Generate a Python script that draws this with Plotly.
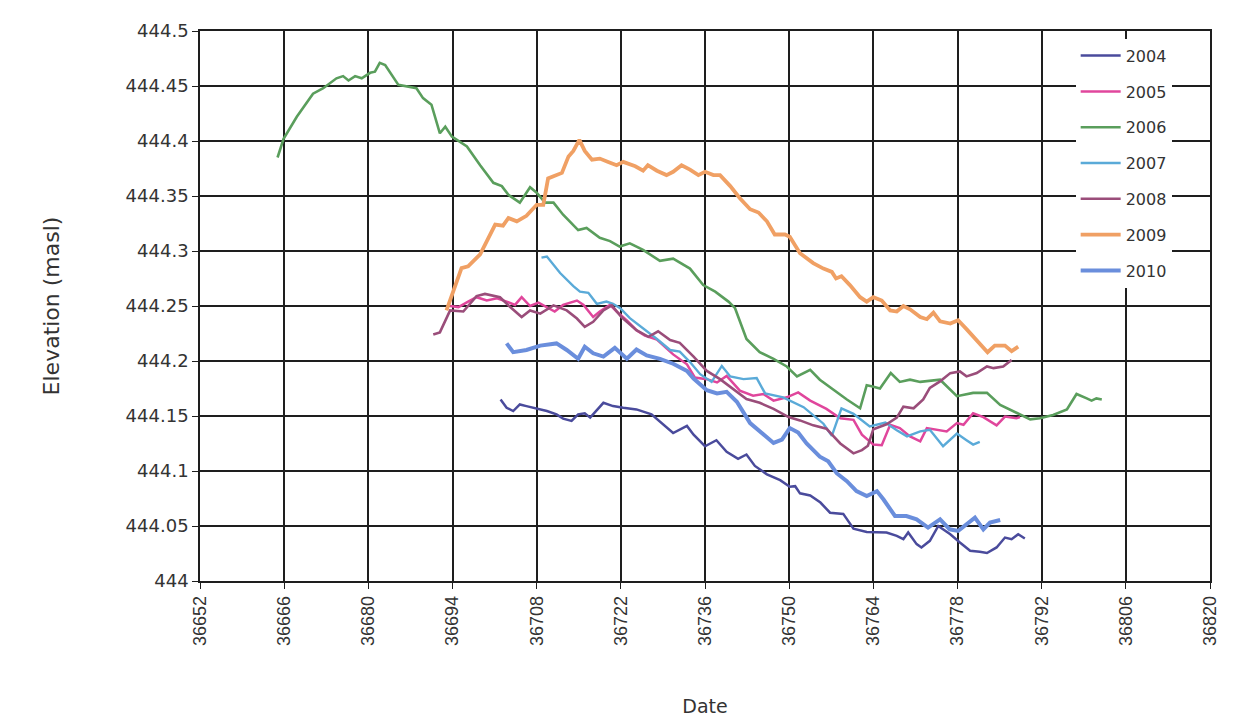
import plotly.graph_objects as go

# ---------------- data ----------------
x_ticks = [36652, 36666, 36680, 36694, 36708, 36722, 36736, 36750, 36764, 36778, 36792, 36806, 36820]
x_tick_labels = [str(v) for v in x_ticks]
y_ticks = [444.0, 444.05, 444.1, 444.15, 444.2, 444.25, 444.3, 444.35, 444.4, 444.45, 444.5]
y_tick_labels = ["444", "444.05", "444.1", "444.15", "444.2", "444.25", "444.3", "444.35", "444.4", "444.45", "444.5"]

d2004 = [36702.0, 36703.0, 36704.1, 36705.2, 36706.3, 36708.0, 36709.7, 36711.3, 36712.4, 36713.8, 36714.9, 36716.0,
         36716.9, 36719.1, 36720.7, 36722.4, 36724.6, 36727.1, 36729.1, 36730.7, 36733.0, 36734.1, 36736.0, 36737.9,
         36739.6, 36741.5, 36742.9, 36744.3, 36746.3, 36748.5, 36750.1, 36751.0, 36751.8, 36753.5, 36755.2, 36756.8,
         36759.0, 36760.7, 36762.9, 36766.2, 36767.9, 36769.0, 36769.8, 36771.2, 36772.0, 36773.4, 36774.8, 36776.8,
         36778.4, 36780.1, 36781.7, 36782.9, 36784.5, 36785.9, 36787.0, 36788.1, 36789.2]
e2004 = [444.165, 444.1575, 444.1545, 444.1605, 444.159, 444.1566, 444.1545, 444.1515, 444.1476, 444.1455, 444.1515, 444.1524,
         444.1485, 444.162, 444.159, 444.1575, 444.156, 444.1515, 444.142, 444.1345, 444.141, 444.133, 444.1225, 444.128,
         444.1175, 444.111, 444.115, 444.1046, 444.097, 444.0917, 444.0857, 444.0862, 444.0797, 444.0778, 444.0713, 444.0621,
         444.061, 444.0475, 444.0445, 444.0441, 444.041, 444.038, 444.0441, 444.0335, 444.0305, 444.0365, 444.050, 444.0425,
         444.035, 444.0275, 444.0266, 444.0254, 444.0305, 444.0395, 444.038, 444.0425, 444.0386]

d2005 = [36693.6, 36695.0, 36696.6, 36698.0, 36699.7, 36701.4, 36703.0, 36704.4, 36705.5, 36706.9, 36708.3, 36709.7,
         36711.0, 36712.4, 36714.7, 36715.8, 36717.4, 36718.5, 36720.2, 36721.3, 36723.0, 36724.6, 36726.0, 36728.0,
         36730.7, 36733.0, 36734.3, 36736.3, 36738.0, 36739.6, 36741.8, 36744.0, 36745.7, 36747.4, 36749.6, 36751.5,
         36753.5, 36756.2, 36758.5, 36760.7, 36762.1, 36764.0, 36765.4, 36766.8, 36768.4, 36770.1, 36771.8, 36772.9,
         36774.5, 36776.2, 36777.9, 36779.0, 36780.6, 36782.3, 36784.5, 36785.9, 36787.8, 36788.4]
e2005 = [444.250, 444.249, 444.254, 444.258, 444.255, 444.257, 444.254, 444.251, 444.258, 444.250, 444.253, 444.249,
         444.245, 444.251, 444.255, 444.251, 444.240, 444.245, 444.251, 444.245, 444.237, 444.228, 444.223, 444.2195,
         444.206, 444.197, 444.185, 444.1835, 444.1805, 444.1865, 444.173, 444.1685, 444.170, 444.164, 444.167, 444.1715,
         444.164, 444.1565, 444.148, 444.1465, 444.133, 444.124, 444.1235, 444.142, 444.139, 444.1315, 444.127, 444.139,
         444.1375, 444.136, 444.1435, 444.142, 444.1525, 444.149, 444.1415, 444.1495, 444.148, 444.149]

d2006 = [36664.9, 36665.9, 36668.1, 36670.8, 36672.5, 36674.7, 36675.8, 36676.7, 36677.8, 36678.9, 36680.3, 36681.1,
         36681.9, 36682.8, 36685.0, 36686.9, 36688.0, 36689.1, 36690.5, 36691.9, 36692.8, 36693.9, 36696.4, 36698.6,
         36700.8, 36702.2, 36703.3, 36705.2, 36706.9, 36708.0, 36709.4, 36710.8, 36712.4, 36714.9, 36716.3, 36718.5,
         36720.2, 36721.8, 36723.5, 36725.7, 36728.5, 36730.7, 36733.5, 36735.7, 36737.7, 36739.9, 36741.0, 36742.9,
         36745.1, 36747.4, 36749.6, 36751.3, 36753.5, 36755.1, 36757.3, 36759.6, 36761.8, 36762.9, 36763.7, 36765.1,
         36766.9, 36768.4, 36770.1, 36771.8, 36775.1, 36777.9, 36780.6, 36782.9, 36785.1, 36787.3, 36790.1, 36791.7,
         36793.9, 36796.2, 36797.8, 36799.5, 36800.3, 36801.1, 36802.0]
e2006 = [444.385, 444.402, 444.422, 444.443, 444.448, 444.457, 444.459, 444.455, 444.459, 444.457, 444.462, 444.463,
         444.471, 444.469, 444.451, 444.449, 444.448, 444.439, 444.433, 444.407, 444.413, 444.404, 444.395, 444.378,
         444.362, 444.359, 444.351, 444.344, 444.358, 444.353, 444.344, 444.344, 444.333, 444.319, 444.321, 444.312,
         444.309, 444.304, 444.307, 444.301, 444.291, 444.293, 444.284, 444.269, 444.263, 444.254, 444.248, 444.220,
         444.208, 444.202, 444.195, 444.186, 444.192, 444.183, 444.174, 444.165, 444.157, 444.178, 444.177, 444.175,
         444.189, 444.181, 444.183, 444.181, 444.183, 444.168, 444.171, 444.171, 444.160, 444.154, 444.147, 444.148,
         444.151, 444.156, 444.170, 444.166, 444.164, 444.166, 444.165]

d2007 = [36708.8, 36709.7, 36711.9, 36714.1, 36715.2, 36716.6, 36718.0, 36719.6, 36720.7, 36721.9, 36723.5, 36725.7,
         36728.0, 36730.2, 36731.8, 36733.5, 36735.2, 36737.1, 36738.8, 36740.2, 36742.4, 36744.6, 36746.0, 36749.0,
         36752.4, 36755.7, 36757.1, 36758.7, 36760.7, 36763.4, 36766.0, 36767.9, 36769.6, 36771.8, 36773.4, 36775.6,
         36777.9, 36779.5, 36780.6, 36781.7]
e2007 = [444.294, 444.295, 444.280, 444.268, 444.263, 444.262, 444.252, 444.254, 444.252, 444.248, 444.239, 444.230,
         444.220, 444.210, 444.2085, 444.199, 444.188, 444.181, 444.1955, 444.186, 444.1835, 444.1845, 444.1705, 444.167,
         444.158, 444.143, 444.132, 444.157, 444.152, 444.1405, 444.144, 444.137, 444.1315, 444.136, 444.1375, 444.1225,
         444.134, 444.128, 444.124, 444.1265]

d2008 = [36690.8, 36691.9, 36693.6, 36695.8, 36698.0, 36699.4, 36701.9, 36703.6, 36705.5, 36706.9, 36708.6, 36710.8,
         36713.0, 36714.7, 36716.0, 36717.4, 36719.1, 36720.5, 36722.1, 36724.6, 36726.6, 36728.2, 36730.2, 36731.8,
         36734.1, 36736.3, 36738.5, 36740.7, 36742.9, 36745.1, 36747.4, 36749.9, 36751.8, 36754.0, 36756.2, 36758.5,
         36760.7, 36762.1, 36763.1, 36764.0, 36766.2, 36767.9, 36769.0, 36770.7, 36772.3, 36773.4, 36775.1, 36776.8,
         36778.4, 36779.5, 36781.2, 36782.9, 36784.0, 36785.6, 36787.0]
e2008 = [444.224, 444.226, 444.246, 444.245, 444.259, 444.261, 444.258, 444.249, 444.240, 444.246, 444.243, 444.2506,
         444.246, 444.2386, 444.231, 444.2356, 444.246, 444.2506, 444.240, 444.228, 444.222, 444.227, 444.219, 444.2165,
         444.204, 444.191, 444.1835, 444.1745, 444.1655, 444.162, 444.1565, 444.149, 444.146, 444.1415, 444.1385, 444.125,
         444.116, 444.119, 444.123, 444.138, 444.1425, 444.1485, 444.1585, 444.157, 444.165, 444.1755, 444.1815, 444.189,
         444.1905, 444.186, 444.189, 444.195, 444.1935, 444.195, 444.201]

d2009 = [36693.0, 36695.5, 36696.6, 36698.6, 36701.1, 36702.4, 36703.3, 36704.7, 36706.3, 36708.0, 36709.1, 36709.9,
         36710.8, 36712.2, 36713.3, 36714.1, 36715.1, 36716.0, 36717.2, 36718.5, 36719.9, 36721.3, 36722.4, 36724.4,
         36725.7, 36726.5, 36728.0, 36729.6, 36730.7, 36732.1, 36733.5, 36734.9, 36736.0, 36737.4, 36738.5, 36740.2,
         36741.8, 36743.5, 36744.9, 36746.3, 36747.6, 36749.3, 36750.1, 36751.8, 36754.0, 36755.7, 36757.1, 36757.8,
         36758.7, 36760.1, 36761.8, 36762.9, 36764.0, 36765.4, 36766.8, 36767.9, 36769.0, 36770.1, 36771.8, 36772.9,
         36774.0, 36775.1, 36776.8, 36778.1, 36779.5, 36781.5, 36783.0, 36784.2, 36785.9, 36787.0, 36788.1]
e2009 = [444.246, 444.2845, 444.286, 444.297, 444.324, 444.323, 444.330, 444.327, 444.332, 444.342, 444.342, 444.366,
         444.368, 444.371, 444.386, 444.391, 444.401, 444.391, 444.383, 444.384, 444.381, 444.378, 444.381, 444.377,
         444.373, 444.378, 444.373, 444.369, 444.372, 444.378, 444.374, 444.369, 444.372, 444.369, 444.369, 444.359,
         444.348, 444.338, 444.335, 444.327, 444.315, 444.315, 444.313, 444.298, 444.289, 444.284, 444.281, 444.275,
         444.277, 444.269, 444.258, 444.254, 444.258, 444.255, 444.246, 444.245, 444.250, 444.247, 444.240, 444.238,
         444.244, 444.236, 444.234, 444.237, 444.229, 444.217, 444.208, 444.214, 444.214, 444.209, 444.213]

d2010 = [36703.0, 36704.1, 36706.3, 36708.6, 36711.3, 36713.0, 36714.9, 36716.0, 36717.4, 36719.1, 36721.0, 36723.0,
         36724.6, 36726.3, 36728.5, 36730.7, 36733.0, 36734.1, 36736.3, 36738.0, 36739.6, 36741.3, 36743.5, 36745.7,
         36747.4, 36748.8, 36750.1, 36751.5, 36752.9, 36755.1, 36756.5, 36757.9, 36759.6, 36761.2, 36762.9, 36764.6,
         36765.7, 36767.6, 36769.5, 36771.2, 36773.1, 36775.1, 36776.7, 36778.1, 36779.5, 36780.9, 36782.3, 36783.4,
         36785.1]
e2010 = [444.216, 444.208, 444.210, 444.214, 444.216, 444.210, 444.202, 444.213, 444.207, 444.204, 444.212, 444.202,
         444.2105, 444.205, 444.202, 444.1975, 444.191, 444.184, 444.1735, 444.1705, 444.172, 444.163, 444.1435, 444.133,
         444.1255, 444.1285, 444.139, 444.135, 444.125, 444.113, 444.1088, 444.098, 444.0907, 444.0817, 444.0772, 444.0817,
         444.0741, 444.0591, 444.0591, 444.056, 444.0486, 444.0561, 444.047, 444.0455, 444.0516, 444.0576, 444.047, 444.0531,
         444.0555]

series_names = ["2004", "2005", "2006", "2007", "2008", "2009", "2010"]
series_x = [d2004, d2005, d2006, d2007, d2008, d2009, d2010]
series_y = [e2004, e2005, e2006, e2007, e2008, e2009, e2010]
series_colors = ["#4A4B9C", "#E0469C", "#5A9E5C", "#5AAAD8", "#9A4D7A", "#F0A064", "#6A8EDC"]
series_widths = [2.5, 2.5, 2.6, 2.4, 2.6, 3.8, 4.0]

# ---------------- figure ----------------
fig = go.Figure()
for name, xs, ys, col, w in zip(series_names, series_x, series_y, series_colors, series_widths):
    fig.add_trace(go.Scatter(x=xs, y=ys, mode="lines", name=name, legendgroup=name,
                             line=dict(color=col, width=w)))

fig.update_layout(
    width=1248, height=723,
    margin=dict(l=192, r=46, t=19, b=150),
    paper_bgcolor="white", plot_bgcolor="white",
    font=dict(family="Liberation Sans, Arial", color="#333333"),
    showlegend=True,
    legend=dict(x=0.867, y=0.986, xanchor="left", yanchor="top",
                bgcolor="white", borderwidth=0,
                font=dict(family="DejaVu Sans", size=16, color="#333333"),
                tracegroupgap=12, itemwidth=40),
)
fig.update_xaxes(range=[36652, 36820], tickvals=x_ticks, ticktext=x_tick_labels,
                 tickangle=-90, tickfont=dict(family="Liberation Sans", size=18, color="#333333"),
                 showgrid=True, gridcolor="#1e1e1e", gridwidth=1.6,
                 showline=True, linecolor="#1e1e1e", linewidth=1.6, mirror=True,
                 ticks="outside", ticklen=6, tickcolor="#1e1e1e", zeroline=False,
                 title=dict(text="Date", font=dict(family="DejaVu Sans", size=19, color="#333333"), standoff=55))
fig.update_yaxes(range=[444.0, 444.5], tickvals=y_ticks, ticktext=y_tick_labels,
                 tickfont=dict(family="DejaVu Sans", size=18, color="#333333"),
                 showgrid=True, gridcolor="#1e1e1e", gridwidth=1.6,
                 showline=True, linecolor="#1e1e1e", linewidth=1.6, mirror=True,
                 ticks="outside", ticklen=6, tickcolor="#1e1e1e", zeroline=False,
                 title=dict(text="Elevation (masl)", font=dict(family="DejaVu Sans", size=22, color="#333333"), standoff=60))

fig.write_html("out.html")
